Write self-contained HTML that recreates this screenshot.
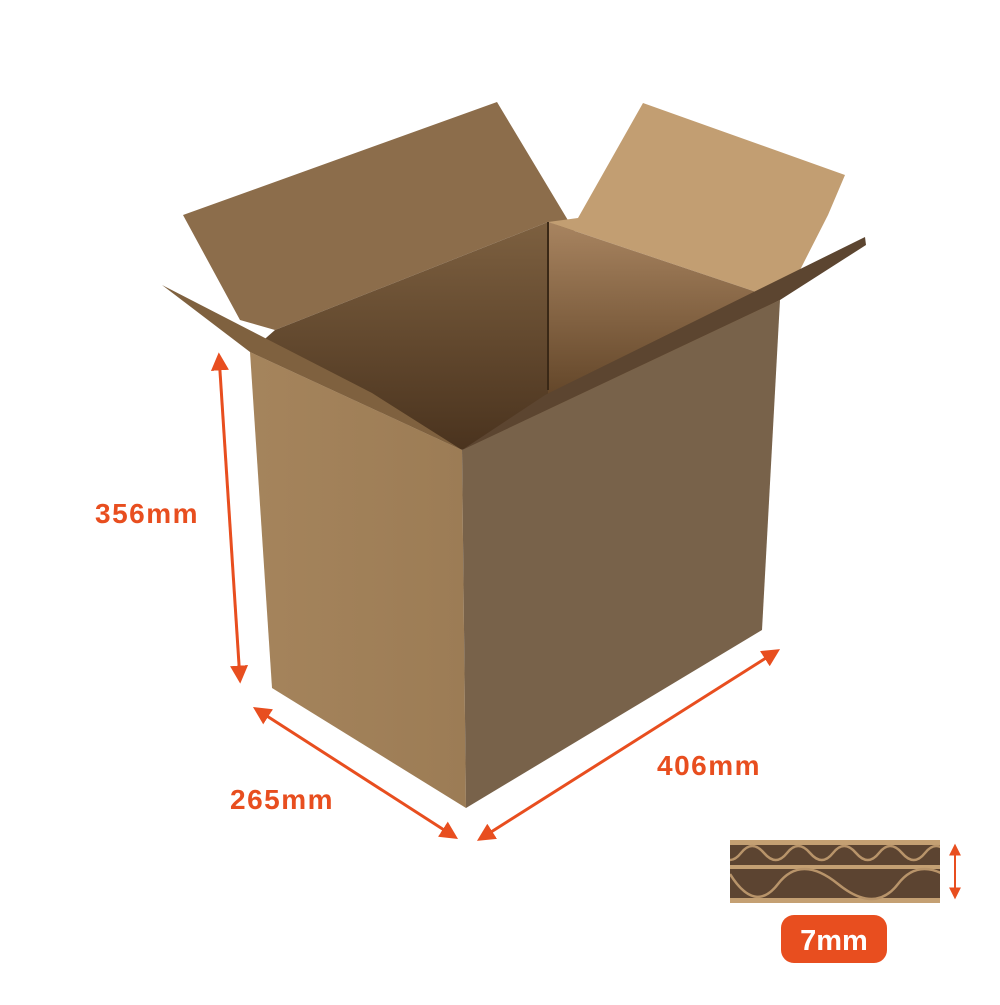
<!DOCTYPE html>
<html><head><style>
body{margin:0;background:#fff;width:1000px;height:1000px;overflow:hidden;font-family:"Liberation Sans",sans-serif}
</style></head><body>
<svg width="1000" height="1000" viewBox="0 0 1000 1000" xmlns="http://www.w3.org/2000/svg">
<defs>
<linearGradient id="lf" x1="0" y1="0" x2="1" y2="0"><stop offset="0" stop-color="#a5845c"/><stop offset="1" stop-color="#9c7c55"/></linearGradient>
<linearGradient id="inner" x1="0" y1="0" x2="0" y2="1"><stop offset="0" stop-color="#7d6040"/><stop offset="1" stop-color="#4a331e"/></linearGradient>
<linearGradient id="rw" x1="0" y1="0" x2="0" y2="1"><stop offset="0" stop-color="#a88460"/><stop offset="1" stop-color="#5a3e22"/></linearGradient>
<marker id="ah" viewBox="0 0 10 10" refX="8" refY="5" markerWidth="6" markerHeight="6" orient="auto-start-reverse"><path d="M0,0 L10,5 L0,10 z" fill="#e84e1f"/></marker>
<clipPath id="cp"><rect x="730" y="840" width="210" height="63"/></clipPath>
</defs>
<polygon points="183,215 497,102 575,232 548,222 275,330 240,320" fill="#8c6d4b"/>
<polygon points="643,103 845,175 828,215 800,270 780,300 548,222 578,218" fill="#c29e72"/>
<polygon points="275,330 548,222 548,420 462,450 250,352" fill="url(#inner)"/>
<polygon points="548,222 780,300 548,420" fill="url(#rw)"/>
<line x1="548" y1="222" x2="548" y2="390" stroke="#3a2816" stroke-width="2"/>
<polygon points="162,285 372,393 462,450 250,352" fill="#7f613f"/>
<polygon points="462,450 545,395 865,237 866,245 780,300" fill="#5c4530"/>
<polygon points="250,352 462,450 466,808 272,688" fill="url(#lf)"/>
<polygon points="462,450 780,300 762,630 466,808" fill="#78624a"/>
<g stroke="#e84e1f" stroke-width="3" fill="none">
<line x1="219" y1="356" x2="240" y2="680" marker-start="url(#ah)" marker-end="url(#ah)"/>
<line x1="256" y1="709" x2="455" y2="837" marker-start="url(#ah)" marker-end="url(#ah)"/>
<line x1="480" y1="839" x2="777" y2="651" marker-start="url(#ah)" marker-end="url(#ah)"/>
<line x1="955" y1="846" x2="955" y2="897" stroke-width="2" marker-start="url(#ah)" marker-end="url(#ah)"/>
</g>
<g font-weight="bold" font-size="28" fill="#e84e1f" letter-spacing="1.5">
<text x="95" y="523">356mm</text>
<text x="230" y="809">265mm</text>
<text x="657" y="775">406mm</text>
</g>
<rect x="730" y="840" width="210" height="63" fill="#c4a073"/>
<rect x="730" y="845" width="210" height="20" fill="#5c4431"/>
<rect x="730" y="869" width="210" height="29" fill="#5c4431"/>
<g clip-path="url(#cp)" stroke="#b8946a" stroke-width="2.5" fill="none">
<path d="M718,853 q12,14 23,0 t23,0 t23,0 t23,0 t23,0 t23,0 t23,0 t23,0 t23,0 t23,0"/>
<path d="M730,874 q25,40 48,10 t60,0 t60,0 t60,0"/>
</g>
<rect x="781" y="915" width="106" height="48" rx="13" fill="#e84e1f"/>
<text x="834" y="950" font-weight="bold" font-size="29" fill="#fff" text-anchor="middle">7mm</text>
</svg>
</body></html>
